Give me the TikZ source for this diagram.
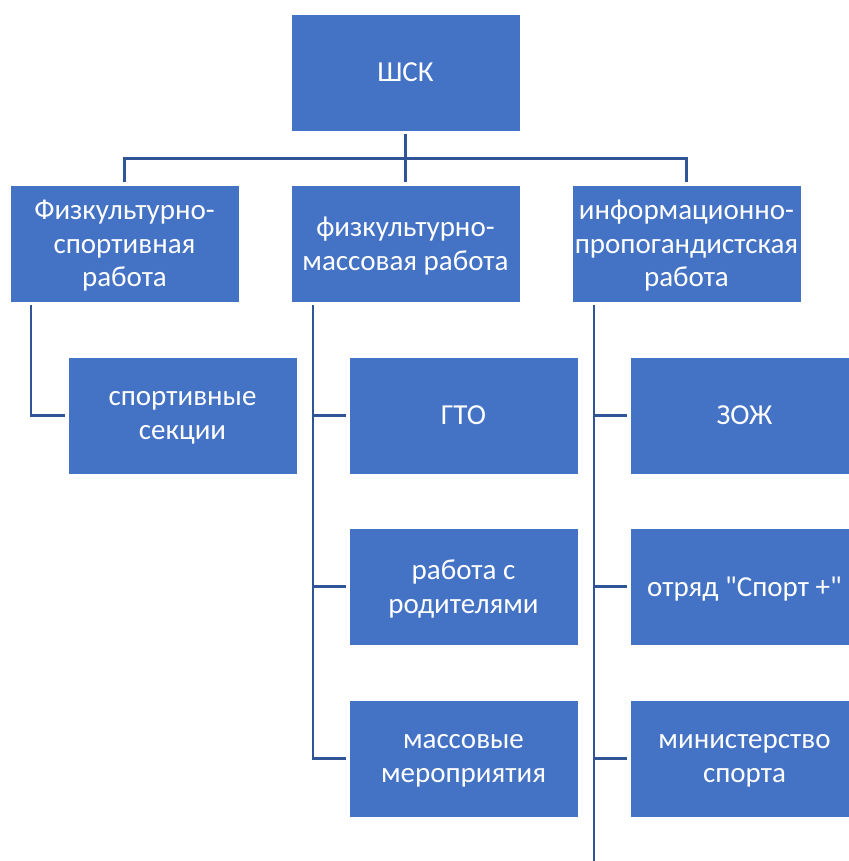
\documentclass[tikz,border=0pt]{standalone}
\usepackage{fontspec}
\setmainfont{Carlito}
\usetikzlibrary{calc,positioning}
\definecolor{boxblue}{RGB}{68,114,196}
\definecolor{linkblue}{RGB}{47,85,151}

\begin{document}
\begin{tikzpicture}[x=1pt,y=1pt,
	box/.style={rectangle,fill=boxblue,draw=white,line width=0.6pt,text=white,align=center,
		minimum width=229pt,minimum height=117pt,inner sep=2pt,text depth=0pt,
		font=\fontsize{29}{33.5}\selectfont},
	link/.style={draw=linkblue,line width=2.6pt}
	]
	\useasboundingbox (0,0) rectangle (848,-861);

	\node[box] (shk) at (405.5,-72.5) {ШСК};

	\node[box] (fs) at (124.5,-243.5) {Физкультурно-\\спортивная\\работа};
	\node[box] (fm) at (405.5,-243.5) {физкультурно-\\массовая работа};
	\node[box] (ip) at (686.5,-243.5) {информационно-\\пропогандистская\\работа};

	\node[box] (sek) at (182.5,-415.5) {спортивные\\секции};

	\node[box] (gto) at (463.5,-415.5) {ГТО};
	\node[box] (rod) at (463.5,-586.5) {работа с\\родителями};
	\node[box] (mer) at (463.5,-758.5) {массовые\\мероприятия};

	\node[box] (zoj) at (744.5,-415.5) {ЗОЖ};
	\node[box] (otr) at (744.5,-586.5) {отряд \textquotedbl Спорт +\textquotedbl};
	\node[box] (min) at (744.5,-758.5) {министерство\\спорта};

	\coordinate (bus) at ($(shk.south)+(0,-27)$);
	\coordinate (end) at (594,-861);

	% top level
	\draw[link] ([yshift=-3]shk.south) -- ([yshift=3]fm.north);
	\draw[link] ([yshift=3]fs.north) |- (bus) -| ([yshift=3]ip.north);

	% branches
	\draw[link] ([xshift=-93.5,yshift=-3]fs.south) |- ([xshift=-3]sek.west);

	\draw[link] ([xshift=-92.5,yshift=-3]fm.south) |- ([xshift=-3]mer.west);
	\draw[link] ([xshift=-92.5,yshift=-3]fm.south) |- ([xshift=-3]gto.west);
	\draw[link] ([xshift=-92.5,yshift=-3]fm.south) |- ([xshift=-3]rod.west);

	\draw[link] ([xshift=-92.5,yshift=-3]ip.south) -- (end);
	\draw[link] ([xshift=-92.5,yshift=-3]ip.south) |- ([xshift=-3]zoj.west);
	\draw[link] ([xshift=-92.5,yshift=-3]ip.south) |- ([xshift=-3]otr.west);
	\draw[link] ([xshift=-92.5,yshift=-3]ip.south) |- ([xshift=-3]min.west);

\end{tikzpicture}
\end{document}
